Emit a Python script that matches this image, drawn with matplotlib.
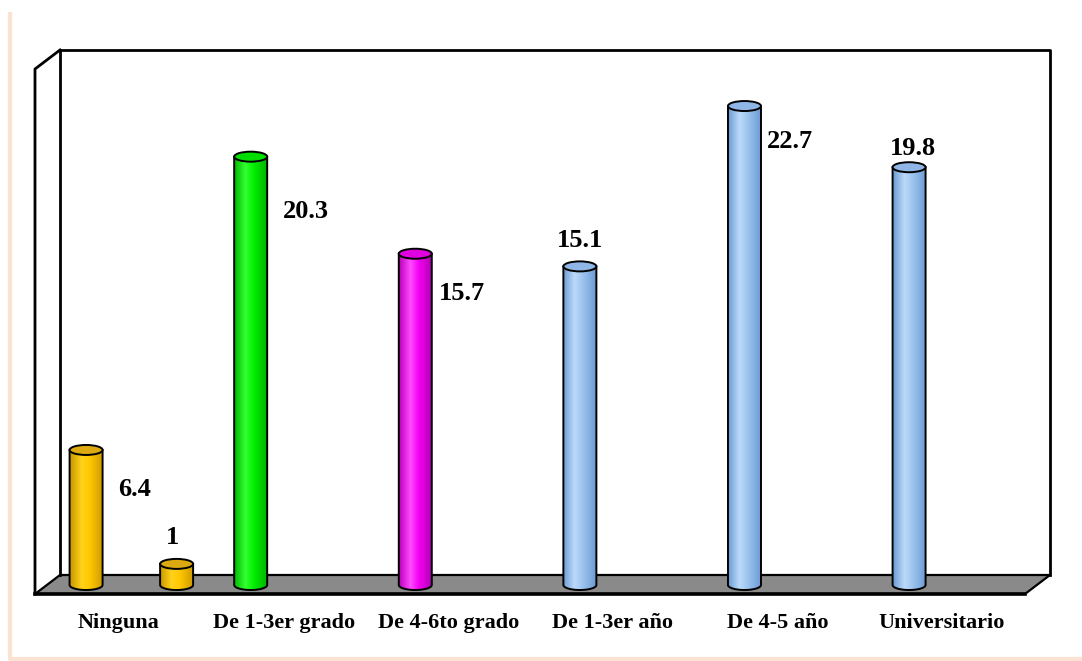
import numpy as np
import matplotlib.pyplot as plt
import matplotlib.transforms as mtransforms
from matplotlib.colors import LinearSegmentedColormap
from matplotlib.patches import Polygon, Ellipse, PathPatch
from matplotlib.path import Path

categories = ['Ninguna', 'De 1-3er grado', 'De 4-6to grado', 'De 1-3er año',
              'De 4-5 año', 'Universitario']
values = [6.4, 1, 20.3, 15.7, 15.1, 22.7, 19.8]
bar_category = [0, 0, 1, 2, 3, 4, 5]
bar_series = [0, 1, 0, 0, 0, 0, 0]
bar_colors = ['gold', 'gold', 'green', 'magenta', 'blue', 'blue', 'blue']

# where each series sits inside its category slot
series_offset = [-0.2, 0.35]
# value label offsets (pixels from top of cylinder)
label_offset = [(48, -40), (-4, 26), (55, -55), (47, -40), (0, 26), (45, -35), (4, 19)]

# shading across the cylinder: left edge -> highlight -> body -> right edge, and top cap
palette = {
    'gold': (['#c99600', '#ffd21a', '#ffc800', '#cf9a00'], '#dcaa10'),
    'green': (['#00b800', '#33ff33', '#00f000', '#00b400'], '#00dd00'),
    'magenta': (['#b800b8', '#ff4dff', '#f500f5', '#b000b0'], '#e000e0'),
    'blue': (['#6a9bd3', '#bcdafa', '#9dc4ee', '#6c9cd4'], '#8fb6e6'),
}

W, H = 1082, 661
fig = plt.figure(figsize=(W / 100, H / 100), dpi=100)
ax = fig.add_axes([0, 0, 1, 1])
ax.axis('off')

x0_px, step_px = 119, 164.6
zero_px, unit_px = 585, 21.1
xlim = (-x0_px / step_px, (W - x0_px) / step_px)
ylim = (-(H - zero_px) / unit_px, zero_px / unit_px)

# pixel based transform for the frame decoration
px = mtransforms.Affine2D().scale(1 / W, -1 / H).translate(0, 1) + ax.transAxes

# outer page border
ax.plot([10, 10, W], [12, 659, 659], color='#fbe2d2', lw=3, transform=px,
        solid_capstyle='butt')

# 3d box: floor, back wall, side wall
floor = Polygon([(60, 575), (1050, 575), (1025, 594), (35, 594)], closed=True,
                fc='#8a8a8a', ec='black', lw=1.6, transform=px, zorder=1)
ax.add_patch(floor)
ax.plot([60, 60, 1050, 1050], [575, 50, 50, 575], color='black', lw=2, transform=px, zorder=1)
ax.plot([60, 35, 35], [50, 69, 594], color='black', lw=2, transform=px, zorder=1)
ax.plot([35, 1025], [594, 594], color='black', lw=2.6, transform=px, zorder=1)

bar_w = 33 / step_px
cap_h = 10 / unit_px


def cylinder(ax, xc, h, colors, top):
    t = np.linspace(np.pi, 2 * np.pi, 80)
    arc = np.column_stack([xc + bar_w / 2 * np.cos(t), cap_h / 2 * np.sin(t)])
    verts = np.vstack([[xc - bar_w / 2, h], arc, [xc + bar_w / 2, h], [xc - bar_w / 2, h]])
    body = PathPatch(Path(verts, closed=True), fc='none', ec='black', lw=1.4, zorder=4)
    ax.add_patch(body)
    cmap = LinearSegmentedColormap.from_list('cyl', list(zip([0, 0.35, 0.6, 1], colors)))
    grad = np.linspace(0, 1, 256).reshape(1, -1)
    im = ax.imshow(grad, cmap=cmap, aspect='auto', zorder=3,
                   extent=(xc - bar_w / 2, xc + bar_w / 2, -cap_h / 2, h))
    im.set_clip_path(body)
    ax.add_patch(Ellipse((xc, h), bar_w, cap_h, fc=top, ec='black', lw=1.4, zorder=5))


for v, c, s, col, off in zip(values, bar_category, bar_series, bar_colors, label_offset):
    xc = c + series_offset[s]
    grads, top = palette[col]
    cylinder(ax, xc, v, grads, top)
    ax.annotate(f'{v:g}', (xc, v), xytext=off, textcoords='offset pixels',
                ha='center', va='center', fontsize=19, fontweight='bold',
                family='Liberation Serif', zorder=6)

for i, cat in enumerate(categories):
    ax.text(i, 33 / H, cat, transform=ax.get_xaxis_transform(), ha='center',
            va='baseline', fontsize=16, fontweight='bold', family='Liberation Serif')

ax.set_xlim(*xlim)
ax.set_ylim(*ylim)

fig.savefig('out.png', dpi=100)
